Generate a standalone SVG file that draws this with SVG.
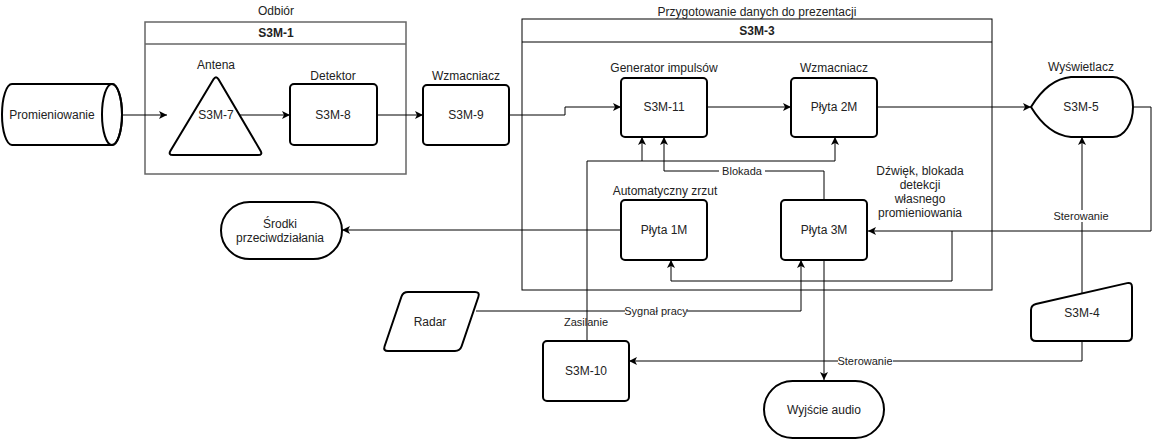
<svg xmlns="http://www.w3.org/2000/svg" width="1160" height="440" viewBox="0 0 1160 440">
<style>
text{font-family:"Liberation Sans",Arial,sans-serif;font-size:12px;fill:#222;text-anchor:middle;dominant-baseline:central}
.b{font-weight:bold}
.n{fill:#fff;stroke:#000;stroke-width:2;stroke-linejoin:round}
.c{fill:none;stroke:#000;stroke-width:1}
.lb{fill:#fff;stroke:none}
</style>
<defs>
<marker id="a" markerUnits="userSpaceOnUse" markerWidth="10" markerHeight="10" refX="8" refY="4" orient="auto">
<path d="M0,0 L8,4 L0,8 L2,4 Z" fill="#000"/>
</marker>
</defs>
<rect width="1160" height="440" fill="#fff"/>

<g id="S3M-1">
<rect x="145" y="22" width="261" height="152" fill="none" stroke="#666" stroke-width="1.5"/>
<line x1="145" y1="44" x2="406" y2="44" stroke="#666" stroke-width="1.5"/>
<text x="276" y="33" class="b">S3M-1</text>
<text x="276" y="11">Odbiór</text>
</g>
<g id="S3M-3">
<rect x="522" y="19" width="470" height="271" fill="none" stroke="#000" stroke-width="1"/>
<line x1="522" y1="42" x2="992" y2="42" stroke="#000"/>
<text x="757" y="31" class="b">S3M-3</text>
<text x="757" y="12">Przygotowanie danych do prezentacji</text>
</g>

<g id="connectors">
<path class="c" d="M122,115 H167" marker-end="url(#a)"/>
<path class="c" d="M240,115 H290" marker-end="url(#a)"/>
<path class="c" d="M377,115 H423" marker-end="url(#a)"/>
<path class="c" d="M509,115 H565 V107 H621" marker-end="url(#a)"/>
<path class="c" d="M707,107 H791" marker-end="url(#a)"/>
<path class="c" d="M877,107 H1031" marker-end="url(#a)"/>
<path class="c" d="M1133,107 H1151 V231 H868" marker-end="url(#a)"/>
<path class="c" d="M952,231 V281 H671 V260" marker-end="url(#a)"/>
<path class="c" d="M587,341 V161 H642 V137" marker-end="url(#a)"/>
<path class="c" d="M642,161 H835 V137" marker-end="url(#a)"/>
<path class="c" d="M824,201 V171 H664 V137" marker-end="url(#a)"/>
<path class="c" d="M621,230 H342" marker-end="url(#a)"/>
<path class="c" d="M476,311 H801 V260" marker-end="url(#a)"/>
<path class="c" d="M824,260 V380" marker-end="url(#a)"/>
<path class="c" d="M1082,341 V361 H629" marker-end="url(#a)"/>
<path class="c" d="M1082,293 V137" marker-end="url(#a)"/>
<rect class="lb" x="719" y="165" width="46" height="12"/>
<text x="742" y="171" style="font-size:11px">Blokada</text>
<rect class="lb" x="625" y="305" width="62" height="12"/>
<text x="656" y="311" style="font-size:11px">Sygnał pracy</text>
<text x="586" y="322" style="font-size:11px">Zasilanie</text>
<rect class="lb" x="838" y="355" width="55" height="12"/>
<text x="865" y="361" style="font-size:11px">Sterowanie</text>
<rect class="lb" x="1054" y="210" width="55" height="12"/>
<text x="1081" y="216" style="font-size:11px">Sterowanie</text>
</g>

<g id="Promieniowanie">
<path class="n" d="M12,84 H112 A10,30.5 0 0 1 112,145 H12 A10,30.5 0 0 1 12,84 Z"/>
<ellipse cx="112" cy="114.5" rx="10" ry="30.5" fill="none" stroke="#000" stroke-width="2"/>
<text x="52" y="115">Promieniowanie</text>
</g>
<g id="S3M-7">
<path class="n" d="M213.5,79.3 Q216,75 218.5,79.3 L260.5,150.7 Q263,155 258,155 L173,155 Q168,155 170.5,150.7 Z"/>
<text x="216" y="115">S3M-7</text>
<text x="216" y="65">Antena</text>
</g>
<g id="S3M-8">
<rect class="n" x="290" y="84" width="87" height="61" rx="4"/>
<text x="333" y="115">S3M-8</text>
<text x="333" y="76">Detektor</text>
</g>
<g id="S3M-9">
<rect class="n" x="423" y="85" width="86" height="60" rx="4"/>
<text x="466" y="115">S3M-9</text>
<text x="466" y="76">Wzmacniacz</text>
</g>
<g id="S3M-11">
<rect class="n" x="621" y="78" width="86" height="59" rx="4"/>
<text x="664" y="107">S3M-11</text>
<text x="664" y="68">Generator impulsów</text>
</g>
<g id="Plyta-2M">
<rect class="n" x="791" y="78" width="86" height="59" rx="4"/>
<text x="834" y="107">Płyta 2M</text>
<text x="834" y="68">Wzmacniacz</text>
</g>
<g id="S3M-5">
<path class="n" d="M1031,107 Q1048,79 1071,77 H1113 A20,30 0 0 1 1113,137 H1071 Q1048,135 1031,107 Z"/>
<text x="1081" y="107">S3M-5</text>
<text x="1081" y="67">Wyświetlacz</text>
</g>
<g id="Plyta-1M">
<rect class="n" x="621" y="200" width="86" height="60" rx="4"/>
<text x="664" y="230">Płyta 1M</text>
<text x="665" y="191">Automatyczny zrzut</text>
</g>
<g id="Plyta-3M">
<rect class="n" x="781" y="200" width="86" height="60" rx="4"/>
<text x="824" y="230">Płyta 3M</text>
</g>
<text x="920" y="171">Dźwięk, blokada</text>
<text x="920" y="185">detekcji</text>
<text x="920" y="199">własnego</text>
<text x="920" y="213">promieniowania</text>
<g id="Srodki">
<rect class="n" x="221" y="202" width="121" height="57" rx="28.5"/>
<text x="280" y="224">Środki</text>
<text x="280" y="238">przeciwdziałania</text>
</g>
<g id="Radar">
<path class="n" d="M408,292 H475 Q480,292 478.4,296.7 L461.6,346.3 Q460,351 455,351 H388 Q383,351 384.6,346.3 L401.4,296.7 Q403,292 408,292 Z"/>
<text x="430" y="322">Radar</text>
</g>
<g id="S3M-10">
<rect class="n" x="543" y="341" width="86" height="60" rx="4"/>
<text x="586" y="371">S3M-10</text>
</g>
<g id="Wyjscie-audio">
<rect class="n" x="764" y="381" width="120" height="57" rx="28.5"/>
<text x="824" y="410">Wyjście audio</text>
</g>
<g id="S3M-4">
<path class="n" d="M1031,310 Q1031,305 1035.9,303.9 L1127.1,283.1 Q1132,282 1132,287 V336 Q1132,341 1127,341 H1036 Q1031,341 1031,336 Z"/>
<text x="1082" y="313">S3M-4</text>
</g>
</svg>
